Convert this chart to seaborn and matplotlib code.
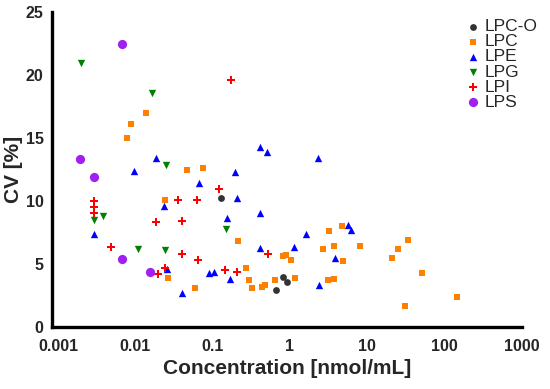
import numpy as np
import pandas as pd
import matplotlib
matplotlib.use("Agg")
import matplotlib.pyplot as plt
import seaborn as sns

# ---- data ----
lpco_x = [0.13, 0.81, 0.91, 0.66]
lpco_y = [10.2, 4.0, 3.6, 2.9]

lpc_x = [0.0136, 0.0087, 0.0077, 0.047, 0.075, 0.0244, 0.0261, 0.0589, 0.214, 0.271,
         0.296, 0.321, 0.44, 0.47, 0.637, 0.815, 0.883, 1.02, 1.16, 2.68, 3.24, 3.68,
         4.77, 4.81, 8.05, 3.14, 3.76, 21.1, 25.2, 33.6, 50.5, 146, 30.4]
lpc_y = [17.0, 16.1, 15.0, 12.5, 12.6, 10.1, 3.9, 3.1, 6.8, 4.7,
         3.7, 3.1, 3.2, 3.3, 3.7, 5.6, 5.7, 5.3, 3.9, 6.2, 7.6, 6.4,
         8.0, 5.2, 6.4, 3.7, 3.8, 5.5, 6.2, 6.9, 4.3, 2.4, 1.7]

lpe_x = [0.0185, 0.0097, 0.0234, 0.00289, 0.0254, 0.04, 0.411, 0.506, 2.27, 0.195,
         0.067, 0.204, 0.411, 0.153, 1.6, 0.411, 1.13, 0.0893, 0.105, 0.168, 2.4,
         5.7, 6.1, 3.79]
lpe_y = [13.4, 12.4, 9.6, 7.35, 4.6, 2.67, 14.3, 13.9, 13.4, 12.3,
         11.45, 10.25, 9.07, 8.67, 7.35, 6.24, 6.38, 4.26, 4.37, 3.78, 3.35,
         8.1, 7.7, 5.48]

lpg_x = [0.002, 0.0165, 0.0251, 0.00289, 0.00385, 0.0107, 0.0244, 0.15]
lpg_y = [20.95, 18.55, 12.86, 8.49, 8.81, 6.22, 6.11, 7.75]

lpi_x = [0.00289, 0.00289, 0.00289, 0.0359, 0.0185, 0.04, 0.00484, 0.04, 0.0244,
         0.0194, 0.121, 0.0619, 0.175, 0.521, 0.0638, 0.144, 0.204]
lpi_y = [10.03, 9.52, 9.02, 10.1, 8.31, 8.41, 6.33, 5.79, 4.71,
         4.23, 10.98, 10.08, 19.58, 5.79, 5.29, 4.5, 4.39]

lps_x = [0.0068, 0.00192, 0.00289, 0.0068, 0.0154]
lps_y = [22.5, 13.3, 11.9, 5.4, 4.4]

classes = ["LPC-O", "LPC", "LPE", "LPG", "LPI", "LPS"]
xs = [lpco_x, lpc_x, lpe_x, lpg_x, lpi_x, lps_x]
ys = [lpco_y, lpc_y, lpe_y, lpg_y, lpi_y, lps_y]

x_ticks = [0.001, 0.01, 0.1, 1, 10, 100, 1000]
x_tick_labels = ["0.001", "0.01", "0.1", "1", "10", "100", "1000"]
y_ticks = [0, 5, 10, 15, 20, 25]

colors = {"LPC-O": "#333333", "LPC": "#FF8000", "LPE": "#0000FF",
          "LPG": "#008000", "LPI": "#FF0000", "LPS": "#A020F0"}
markers = {"LPC-O": "o", "LPC": "s", "LPE": "^", "LPG": "v", "LPI": "P", "LPS": "o"}
sizes = {"LPC-O": 24, "LPC": 24, "LPE": 28, "LPG": 28, "LPI": 30, "LPS": 44}

df = pd.DataFrame({
    "conc": np.concatenate([np.asarray(v, float) for v in xs]),
    "cv": np.concatenate([np.asarray(v, float) for v in ys]),
    "cls": np.concatenate([[c] * len(v) for c, v in zip(classes, xs)]),
})

sns.set_style("white")
plt.rcParams["font.family"] = ["Liberation Sans", "DejaVu Sans"]

fig = plt.figure(figsize=(5.5, 3.89), dpi=100)
ax = fig.add_axes([52 / 550, 1 - 327 / 389, 470 / 550, 315 / 389])

for c in classes:
    sub = df[df["cls"] == c]
    sns.scatterplot(data=sub, x="conc", y="cv", ax=ax, color=colors[c],
                    marker=markers[c], s=sizes[c], linewidth=0, label=c, zorder=3)

ax.set_xscale("log")
ax.set_xlim(10 ** (-3 - 6 / 77.4), 1000)
ax.set_ylim(0, 25)
ax.set_xticks(x_ticks)
ax.set_xticklabels(x_tick_labels)
ax.xaxis.set_minor_locator(matplotlib.ticker.NullLocator())
ax.set_yticks(y_ticks)
ax.set_yticklabels([str(t) for t in y_ticks])

for side in ["top", "right"]:
    ax.spines[side].set_visible(False)
for side in ["left", "bottom"]:
    ax.spines[side].set_linewidth(2.4)
    ax.spines[side].set_color("black")

ax.tick_params(axis="both", which="major", direction="out", length=4.5, width=2.2,
               color="black", labelsize=11.5, pad=1.5)
ax.tick_params(axis="x", pad=4)
for lab in ax.get_xticklabels() + ax.get_yticklabels():
    lab.set_fontweight("bold")

ax.set_xlabel("Concentration [nmol/mL]", fontsize=15, fontweight="bold", labelpad=4)
ax.set_ylabel("CV [%]", fontsize=15, fontweight="bold", labelpad=2)

leg = ax.legend(loc="upper left", bbox_to_anchor=(466 / 550, 1 - 19 / 389),
                bbox_transform=fig.transFigure, frameon=False, fontsize=12.5,
                handlelength=0.8, handletextpad=0.3, labelspacing=0.0,
                borderpad=0, borderaxespad=0)

fig.savefig("out.png", dpi=100)
